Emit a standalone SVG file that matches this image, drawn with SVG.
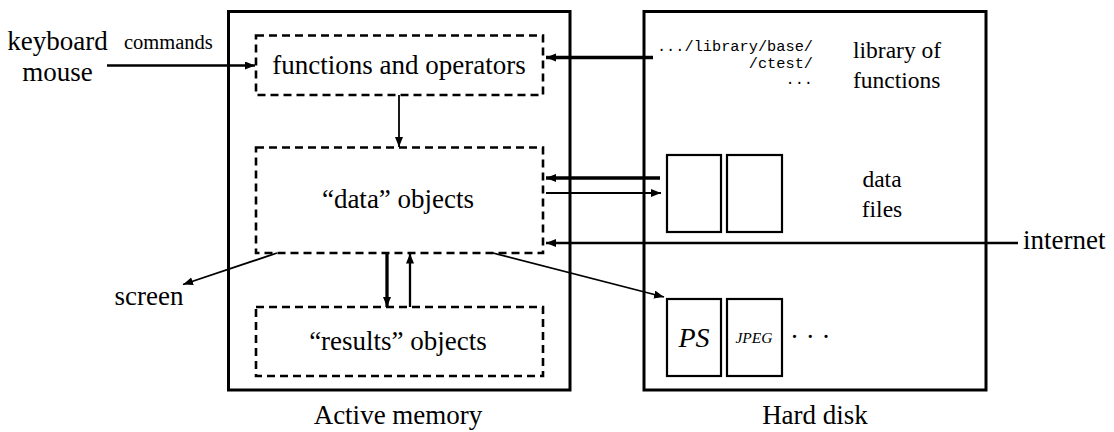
<svg xmlns="http://www.w3.org/2000/svg" width="1114" height="432" viewBox="0 0 1114 432">
  <defs>
    <marker id="ah" markerUnits="userSpaceOnUse" markerWidth="11" markerHeight="9" refX="10" refY="4" orient="auto">
      <path d="M0,0 L10,4 L0,8 z" fill="#000"/>
    </marker>
    <style>
      .box{fill:none;stroke:#000;stroke-width:3}
      .dash{fill:none;stroke:#000;stroke-width:2.6;stroke-dasharray:8,5}
      .file{fill:none;stroke:#000;stroke-width:2.2}
      .thin{fill:none;stroke:#000;stroke-width:1.8;marker-end:url(#ah)}
      .mid{fill:none;stroke:#000;stroke-width:2.3;marker-end:url(#ah)}
      .thick{fill:none;stroke:#000;stroke-width:3.3;marker-end:url(#ah)}
      text{font-family:"Liberation Serif","Times New Roman",serif;fill:#000}
      .big{font-size:27px}
      .med{font-size:23.5px}
      .sm{font-size:20.5px}
      .mono{font-family:"Liberation Mono","Courier New",monospace;font-size:15.3px}
    </style>
  </defs>

  <g id="active-memory">
    <rect class="box" x="228.5" y="11.5" width="341.5" height="378.5"/>
    <text class="big" x="398" y="424" text-anchor="middle">Active memory</text>
  </g>
  <g id="hard-disk">
    <rect class="box" x="644" y="11.5" width="342" height="378.5"/>
    <text class="big" x="815" y="424" text-anchor="middle">Hard disk</text>
  </g>

  <g id="functions">
    <rect class="dash" x="256" y="35.5" width="287" height="59.5"/>
    <text class="big" x="399" y="74" text-anchor="middle">functions and operators</text>
  </g>
  <g id="data-objects">
    <rect class="dash" x="256" y="147.5" width="287" height="105.5"/>
    <text class="big" x="398" y="208" text-anchor="middle">“data” objects</text>
  </g>
  <g id="results-objects">
    <rect class="dash" x="256" y="307" width="287" height="69"/>
    <text class="big" x="398" y="350" text-anchor="middle">“results” objects</text>
  </g>

  <g id="input">
    <text class="big" x="57.5" y="50" text-anchor="middle">keyboard</text>
    <text class="big" x="57.5" y="81" text-anchor="middle">mouse</text>
    <text class="sm" x="124" y="49">commands</text>
  </g>

  <g id="library">
    <text class="mono" x="813" y="51" text-anchor="end">.../library/base/</text>
    <text class="mono" x="813" y="67.5" text-anchor="end">/ctest/</text>
    <text class="mono" x="813" y="84" text-anchor="end">...</text>
    <text class="med" x="853" y="58">library of</text>
    <text class="med" x="853" y="88">functions</text>
  </g>

  <g id="data-files">
    <rect class="file" x="667" y="155" width="54" height="77"/>
    <rect class="file" x="727" y="155" width="55" height="77"/>
    <text class="med" x="882" y="187" text-anchor="middle">data</text>
    <text class="med" x="882" y="217" text-anchor="middle">files</text>
  </g>

  <g id="output-files">
    <rect class="file" x="667" y="299" width="54" height="77"/>
    <rect class="file" x="727" y="299" width="55" height="77"/>
    <text x="694" y="347" text-anchor="middle" font-style="italic" font-size="28">PS</text>
    <text x="754" y="343" text-anchor="middle" font-style="italic" font-size="15.5">JPEG</text>
    <text class="big" x="790" y="346">· · ·</text>
  </g>

  <g id="screen">
    <text class="big" x="149" y="305" text-anchor="middle">screen</text>
  </g>
  <g id="internet">
    <text class="big" x="1023" y="249">internet</text>
  </g>

  <g id="connectors">
    <line class="mid" x1="107" y1="65.5" x2="255" y2="65.5"/>
    <line class="thick" x1="653" y1="57.5" x2="546" y2="57.5"/>
    <line class="thin" x1="399" y1="95" x2="399" y2="147"/>
    <line class="thick" x1="660" y1="178" x2="546" y2="178"/>
    <line class="thin" x1="546" y1="193" x2="661" y2="193"/>
    <line class="mid" x1="1018" y1="243" x2="546" y2="243"/>
    <line class="thin" x1="277" y1="253" x2="183" y2="284.5"/>
    <line class="thin" x1="493" y1="253" x2="664" y2="297"/>
    <line class="thick" x1="387" y1="253" x2="387" y2="307"/>
    <line class="mid" x1="410" y1="307" x2="410" y2="253.5"/>
  </g>
</svg>
